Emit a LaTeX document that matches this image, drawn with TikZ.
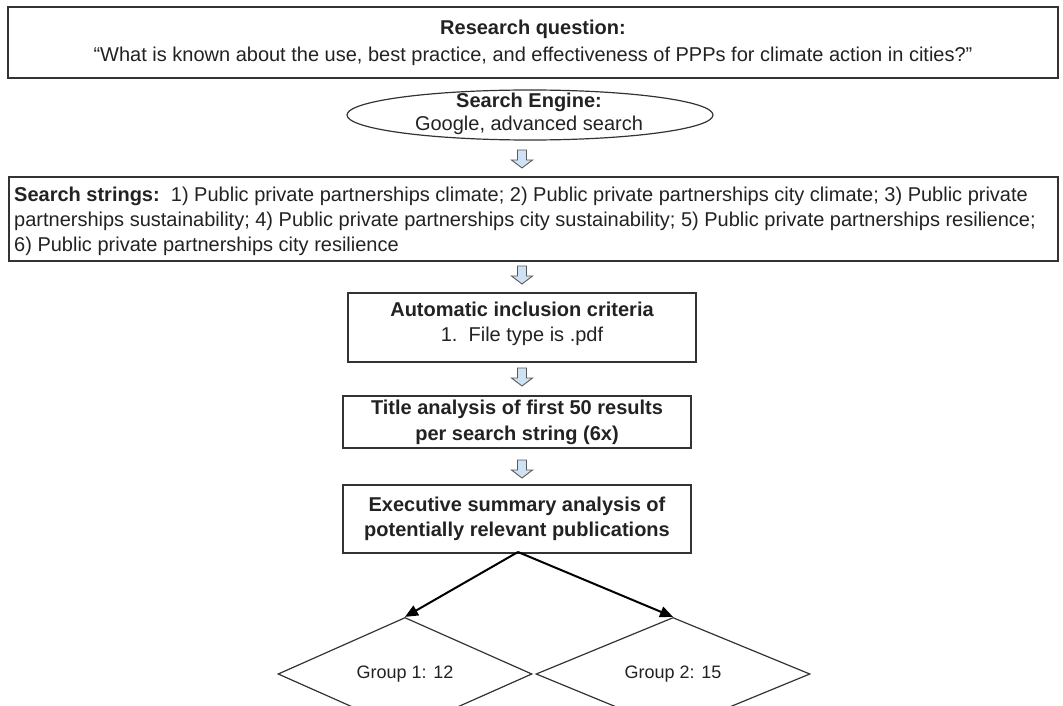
\documentclass[tikz,border=0pt]{standalone}
\usepackage{fontspec}
\setmainfont{Liberation Sans}
\usetikzlibrary{shapes.geometric,arrows.meta}
\definecolor{lblue}{HTML}{CFE2F3}
\definecolor{edge}{HTML}{333333}
\definecolor{ink}{HTML}{222222}
\begin{document}
\begin{tikzpicture}[x=1pt,y=-1pt,
  plainbox/.style={draw=edge, line width=1.2pt, inner sep=0pt, align=center,
    text=ink, font=\fontsize{20}{25}\selectfont},
  txt/.style={inner sep=0pt, text=ink, font=\fontsize{20}{25}\selectfont},
  diam/.style={draw=edge, line width=1.2pt, diamond, inner sep=0pt, text=ink,
    font=\fontsize{18}{22}\selectfont},
  conn/.style={draw=black, line width=2pt, -{Triangle[length=13pt,width=11pt]}},
  blockarrow/.pic={\draw[draw=black!65, fill=lblue, line width=0.9pt, line join=miter]
    (-4.5,-9) -- (4.5,-9) -- (4.5,1) -- (10.5,1) -- (0,9) -- (-10.5,1) -- (-4.5,1) -- cycle;}
]
\useasboundingbox (0,0) rectangle (1063,706);

% research question
\node[plainbox, minimum width=1050pt, minimum height=71pt] (rq) at (533,42.5)
  {\bfseries Research question:\\[2pt]“What is known about the use, best practice, and effectiveness of PPPs for climate action in cities?”};

% search engine ellipse
\node[draw=edge, line width=1.2pt, ellipse, minimum width=366pt, minimum height=50pt, inner sep=0pt] (se) at (530,115) {};
\node[txt, align=center, font=\fontsize{20}{23}\selectfont] (set) at (529,113.5)
  {\bfseries Search Engine:\\Google, advanced search};

\pic at (522,159) {blockarrow};

% search strings
\node[plainbox, minimum width=1049pt, minimum height=84pt] (ss) at (533.5,219) {};
\node[txt, align=left, anchor=west] (sst) at (14,221)
  {\textbf{Search strings:}\ \ 1) Public private partnerships climate; 2) Public private partnerships city climate; 3) Public private\\
   partnerships sustainability; 4) Public private partnerships city sustainability; 5) Public private partnerships resilience;\\
   6) Public private partnerships city resilience};

\pic at (522,275) {blockarrow};

% automatic inclusion
\node[plainbox, minimum width=348pt, minimum height=69pt] (ai) at (522,327.5) {};
\node[txt, align=center] (ait) at (522,324)
  {\bfseries Automatic inclusion criteria\\1.\ \ File type is .pdf};

\pic at (522,377) {blockarrow};

% title analysis
\node[plainbox, minimum width=348pt, minimum height=52pt, font=\bfseries\fontsize{20}{26}\selectfont] (ta) at (517,422)
  {Title analysis of first 50 results\\per search string (6x)};

\pic at (522,469) {blockarrow};

% executive summary
\node[plainbox, minimum width=348pt, minimum height=68pt, font=\bfseries\fontsize{20}{25}\selectfont] (ex) at (517,519)
  {Executive summary analysis of\\potentially relevant publications};

% groups
\node[diam, minimum width=254pt, minimum height=70pt] (g1) at (405,674) {Group 1: 12};
\node[diam, minimum width=274pt, minimum height=70pt] (g2) at (673,674) {Group 2: 15};

\coordinate (apex) at (518,552);
\draw[conn] (apex) -- (g1.north);
\draw[conn] (apex) -- (g2.north);
\end{tikzpicture}
\end{document}
